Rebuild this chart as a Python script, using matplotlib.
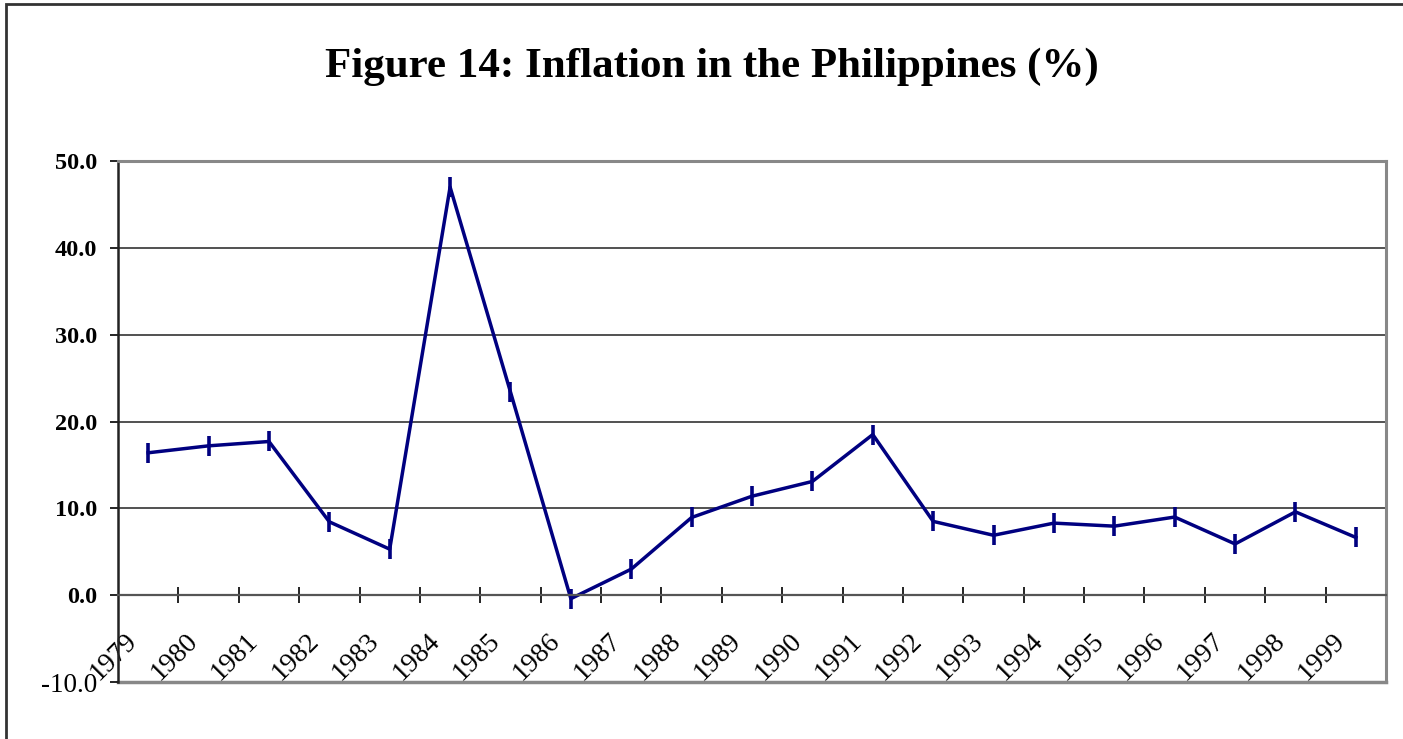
import matplotlib
matplotlib.use('Agg')
import matplotlib.pyplot as plt
from matplotlib.patches import Rectangle
import numpy as np

years = ['1979', '1980', '1981', '1982', '1983', '1984', '1985', '1986', '1987', '1988', '1989',
         '1990', '1991', '1992', '1993', '1994', '1995', '1996', '1997', '1998', '1999']
inflation = [16.4, 17.2, 17.7, 8.45, 5.3, 47.0, 23.4, -0.4, 3.0, 8.95, 11.4,
             13.1, 18.5, 8.5, 6.9, 8.3, 7.95, 9.0, 5.9, 9.6, 6.65]
y_ticks = [-10, 0, 10, 20, 30, 40, 50]

navy = '#000080'
fig = plt.figure(figsize=(14.03, 7.39), dpi=100)
ax = fig.add_axes([0.0841, 0.0771, 0.9038, 0.705])

x = np.arange(len(years))
ax.plot(x, inflation, color=navy, lw=2.5, marker='|', markersize=15, markeredgewidth=2.6)

ax.set_xlim(-0.5, len(years) - 0.5)
ax.set_ylim(-10, 50)

# grid lines + plot area border
for v in y_ticks[2:-1]:
    ax.axhline(v, color='#333333', lw=1.2, zorder=0)
ax.axhline(-10, color='#888888', lw=2.5, zorder=0, clip_on=False)
for s in ['top', 'right']:
    ax.spines[s].set_color('#888888')
    ax.spines[s].set_linewidth(2.2)
ax.spines['left'].set_color('#222222')
ax.spines['left'].set_linewidth(1.8)
ax.spines['bottom'].set_position(('data', 0))
ax.spines['bottom'].set_color('#555555')
ax.spines['bottom'].set_linewidth(1.6)

# y axis
ax.set_yticks(y_ticks)
ax.set_yticklabels(['%.1f' % v for v in y_ticks])
ax.tick_params(axis='y', direction='out', length=6, width=1.2, pad=9, colors='black')
for lab in ax.get_yticklabels():
    lab.set_fontfamily('Liberation Serif')
    lab.set_fontweight('bold')
    lab.set_fontsize(17.5)
lab0 = ax.get_yticklabels()[0]
lab0.set_fontweight('normal')
lab0.set_fontsize(19.5)

# x axis: labels offset from the category boundary ticks
ax.set_xticks(x - 0.24)
ax.set_xticklabels(years, rotation=45, rotation_mode='anchor', ha='right', va='center',
                   fontfamily='Liberation Serif', fontsize=20)
ax.tick_params(axis='x', which='major', length=0, pad=30)
ax.set_xticks(x + 0.5, minor=True)
ax.tick_params(axis='x', which='minor', direction='inout', length=11.5, width=1.2, colors='black')

fig.text(0.5075, 0.909, 'Figure 14: Inflation in the Philippines (%)', ha='center', va='center',
         fontfamily='Liberation Serif', fontweight='bold', fontsize=31)

# outer chart border
fig.patches.append(Rectangle((6 / 1403, -0.05), 1.1, 1.05 - 3.5 / 739, transform=fig.transFigure,
                             fill=False, edgecolor='#333333', lw=2))

fig.savefig('out.png', dpi=100)
